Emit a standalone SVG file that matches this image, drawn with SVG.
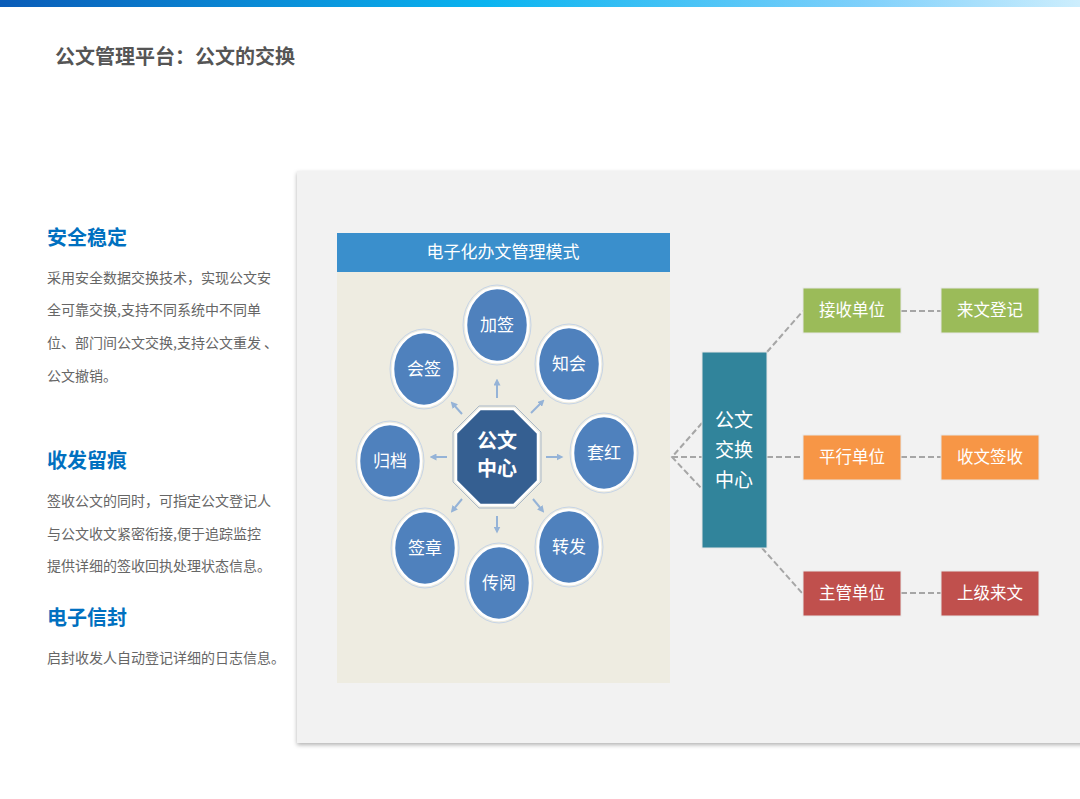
<svg xmlns="http://www.w3.org/2000/svg" width="1080" height="799" viewBox="0 0 1080 799">
<defs>
<linearGradient id="bar" x1="0" x2="1" y1="0" y2="0">
<stop offset="0" stop-color="#0a5cb8"/><stop offset="0.45" stop-color="#0ab4f0"/><stop offset="0.8" stop-color="#7fd0fb"/><stop offset="1" stop-color="#cdeefd"/>
</linearGradient>
<filter id="sh" x="-5%" y="-5%" width="110%" height="110%"><feDropShadow dx="0" dy="2" stdDeviation="2" flood-color="#000" flood-opacity="0.3"/></filter>
<marker id="ar" viewBox="0 0 10 10" refX="5" refY="5" markerWidth="3.5" markerHeight="3.5" orient="auto"><path d="M0,0 L10,5 L0,10 z" fill="#95b3d7"/></marker>
</defs>
<style>
text{font-family:"Noto Sans CJK SC","Liberation Sans",sans-serif}
.h{fill:#0070c0;font-size:20px;font-weight:bold}
.b{fill:#666;font-size:14px}
.c{fill:#4f81bd;stroke:#fff;stroke-width:2.5}
.co{fill:none;stroke:#c6d4e6;stroke-width:1}
.ct{fill:#fff;font-size:17px;text-anchor:middle}
.bt{fill:#fff;font-size:16.5px;text-anchor:middle}
.bx{stroke:#e6e6e6;stroke-width:1}
.arr{stroke:#95b3d7;stroke-width:2;marker-end:url(#ar)}
.d{stroke:#a6a6a6;stroke-width:2;stroke-dasharray:6 3;fill:none}
</style>
<rect width="1080" height="799" fill="#fff"/>
<rect x="0" y="0" width="1080" height="7" fill="url(#bar)"/>
<text x="55" y="64" font-size="20" font-weight="bold" fill="#555">公文管理平台：公文的交换</text>

<g id="left">
<text class="h" x="47" y="245">安全稳定</text>
<text class="b" x="47" y="283">采用安全数据交换技术，实现公文安</text>
<text class="b" x="47" y="315">全可靠交换,支持不同系统中不同单</text>
<text class="b" x="47" y="348">位、部门间公文交换,支持公文重发 、</text>
<text class="b" x="47" y="381">公文撤销。</text>
<text class="h" x="47" y="468">收发留痕</text>
<text class="b" x="47" y="506">签收公文的同时，可指定公文登记人</text>
<text class="b" x="47" y="539">与公文收文紧密衔接,便于追踪监控</text>
<text class="b" x="47" y="571">提供详细的签收回执处理状态信息。</text>
<text class="h" x="47" y="625">电子信封</text>
<text class="b" x="47" y="663">启封收发人自动登记详细的日志信息。</text>
</g>

<rect x="297" y="171" width="790" height="572" fill="#f2f2f2" filter="url(#sh)"/>
<rect x="337" y="233" width="333" height="450" fill="#eeece1"/>
<rect x="337" y="233" width="333" height="39" fill="#3a8fcc"/>
<text x="503" y="258" font-size="17" fill="#fff" text-anchor="middle">电子化办文管理模式</text>

<g id="arrows">
<line class="arr" x1="497" y1="398" x2="497" y2="382"/>
<line class="arr" x1="531" y1="413" x2="542" y2="402"/>
<line class="arr" x1="546" y1="457" x2="560" y2="457"/>
<line class="arr" x1="533" y1="499" x2="542" y2="510"/>
<line class="arr" x1="497" y1="516" x2="497" y2="530"/>
<line class="arr" x1="462" y1="499" x2="453" y2="510"/>
<line class="arr" x1="447" y1="457" x2="433" y2="457"/>
<line class="arr" x1="462" y1="414" x2="453" y2="404"/>
</g>

<g id="n-jiaqian"><ellipse class="c" cx="497" cy="325" rx="31" ry="37"/><ellipse class="co" cx="497" cy="325" rx="34" ry="40"/><text class="ct" x="497" y="331">加签</text></g>
<g id="n-zhihui"><ellipse class="c" cx="569" cy="364" rx="31" ry="37"/><ellipse class="co" cx="569" cy="364" rx="34" ry="40"/><text class="ct" x="569" y="370">知会</text></g>
<g id="n-taohong"><ellipse class="c" cx="604" cy="453" rx="31" ry="37"/><ellipse class="co" cx="604" cy="453" rx="34" ry="40"/><text class="ct" x="604" y="459">套红</text></g>
<g id="n-zhuanfa"><ellipse class="c" cx="569" cy="547" rx="31" ry="37"/><ellipse class="co" cx="569" cy="547" rx="34" ry="40"/><text class="ct" x="569" y="553">转发</text></g>
<g id="n-chuanyue"><ellipse class="c" cx="499" cy="583" rx="31" ry="37"/><ellipse class="co" cx="499" cy="583" rx="34" ry="40"/><text class="ct" x="499" y="589">传阅</text></g>
<g id="n-qianzhang"><ellipse class="c" cx="425" cy="548" rx="31" ry="37"/><ellipse class="co" cx="425" cy="548" rx="34" ry="40"/><text class="ct" x="425" y="554">签章</text></g>
<g id="n-guidang"><ellipse class="c" cx="390" cy="461" rx="31" ry="37"/><ellipse class="co" cx="390" cy="461" rx="34" ry="40"/><text class="ct" x="390" y="467">归档</text></g>
<g id="n-huiqian"><ellipse class="c" cx="424" cy="369" rx="31" ry="37"/><ellipse class="co" cx="424" cy="369" rx="34" ry="40"/><text class="ct" x="424" y="375">会签</text></g>

<g id="n-center">
<polygon points="480,409 514,409 538,433 538,481 514,505 480,505 456,481 456,433" fill="#355f91" stroke="#fff" stroke-width="2.5"/>
<polygon points="479,406 515,406 541,432 541,482 515,508 479,508 453,482 453,432" fill="none" stroke="#aab8c8" stroke-width="1"/>
<text x="497" y="448" font-size="20" font-weight="bold" fill="#fff" text-anchor="middle">公文</text>
<text x="497" y="476" font-size="20" font-weight="bold" fill="#fff" text-anchor="middle">中心</text>
</g>

<g id="connectors">
<path class="d" d="M702,423 L672,457 L702,489 M672,457 L702,457"/>
<path class="d" d="M767,352 L803,311 M767,457 L803,457 M762,548 L803,594"/>
<path class="d" d="M901,311 L941,311 M901,457 L941,457 M901,593 L941,593"/>
</g>

<g id="n-exchange">
<rect x="702" y="352" width="65" height="196" fill="#31849b" stroke="#e6e6e6" stroke-width="1"/>
<text x="734" y="427" font-size="19" fill="#fff" text-anchor="middle">公文</text>
<text x="734" y="457" font-size="19" fill="#fff" text-anchor="middle">交换</text>
<text x="734" y="487" font-size="19" fill="#fff" text-anchor="middle">中心</text>
</g>
<g id="n-jieshou"><rect class="bx" x="803" y="288" width="98" height="45" fill="#9bbb59"/><text class="bt" x="852" y="316">接收单位</text></g>
<g id="n-laiwen"><rect class="bx" x="941" y="288" width="98" height="45" fill="#9bbb59"/><text class="bt" x="990" y="316">来文登记</text></g>
<g id="n-pingxing"><rect class="bx" x="803" y="435" width="98" height="45" fill="#f79646"/><text class="bt" x="852" y="463">平行单位</text></g>
<g id="n-shouwen"><rect class="bx" x="941" y="435" width="98" height="45" fill="#f79646"/><text class="bt" x="990" y="463">收文签收</text></g>
<g id="n-zhuguan"><rect class="bx" x="803" y="571" width="98" height="45" fill="#c0504d"/><text class="bt" x="852" y="599">主管单位</text></g>
<g id="n-shangji"><rect class="bx" x="941" y="571" width="98" height="45" fill="#c0504d"/><text class="bt" x="990" y="599">上级来文</text></g>
</svg>
